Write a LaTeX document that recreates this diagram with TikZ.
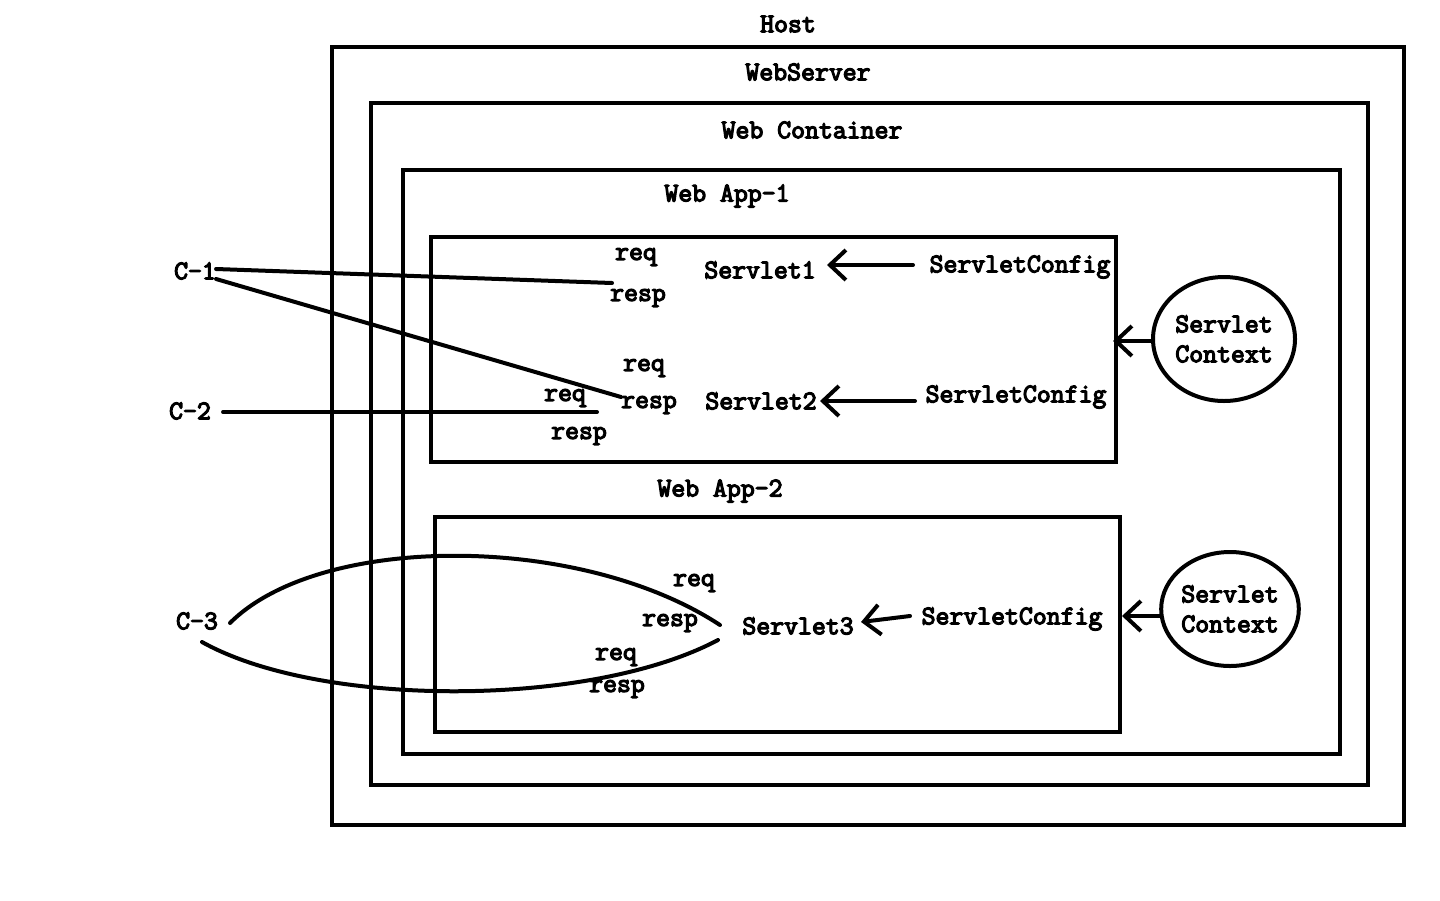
\documentclass[tikz,border=0pt]{standalone}
\usepackage{fontspec}
\newfontfamily\heavymono{Latin Modern Mono}[FakeBold=4.5]
\usetikzlibrary{arrows.meta,shapes.geometric}
\begin{document}
\begin{tikzpicture}[x=1pt,y=-1pt,
  lw/.style={line width=4pt},
  box/.style={draw,lw,rectangle,inner sep=0pt},
  lbl/.style={inner sep=0pt,font=\heavymono\fontsize{27}{30}\selectfont},
  ctx/.style={draw,lw,ellipse,inner sep=0pt,align=center,font=\heavymono\fontsize{27}{30}\selectfont},
  wire/.style={lw,line cap=round},
  arr/.style={lw,line cap=round,-{Straight Barb[length=16pt,width=30pt,line width=4pt]}}
]
\useasboundingbox (0,0) rectangle (1440,900);
\fill[white] (0,0) rectangle (1440,900);

% boxes
\node[box,minimum width=1072,minimum height=778] (host) at (868,436) {};
\node[box,minimum width=997,minimum height=682] (websrv) at (869.5,444) {};
\node[box,minimum width=937,minimum height=584] (cont) at (871.5,462) {};
\node[box,minimum width=685,minimum height=225] (app1) at (773.5,349.5) {};
\node[box,minimum width=685,minimum height=215] (app2) at (777.5,624.5) {};

% titles
\node[lbl] (thost) at (788,24) {Host};
\node[lbl] (tws) at (808,72) {WebServer};
\node[lbl] (tcont) at (812,130) {Web Container};
\node[lbl] (tapp1) at (727,196) {Web App-1};
\node[lbl] (tapp2) at (720,491) {Web App-2};

% clients
\node[lbl] (c1) at (195,271) {C-1};
\node[lbl] (c2) at (190,411) {C-2};
\node[lbl] (c3) at (197,621) {C-3};

% app 1 texts
\node[lbl] (rq1) at (636,257) {req};
\node[lbl] (rs1) at (638,298) {resp};
\node[lbl] (rq2) at (644,368) {req};
\node[lbl] (rs2) at (649,405) {resp};
\node[lbl] (rq3) at (565,398) {req};
\node[lbl] (rs3) at (579,436) {resp};
\node[lbl] (s1) at (760,270) {Servlet1};
\node[lbl] (s2) at (761,401) {Servlet2};
\node[lbl] (cfg1) at (1020,267) {ServletConfig};
\node[lbl] (cfg2) at (1016,397) {ServletConfig};
\node[ctx,minimum width=142,minimum height=124] (ctx1) at (1224,339) {Servlet\\Context};

% app 2 texts
\node[lbl] (rq4) at (694,583) {req};
\node[lbl] (rs4) at (670,623) {resp};
\node[lbl] (rq5) at (616,657) {req};
\node[lbl] (rs5) at (617,689) {resp};
\node[lbl] (s3) at (798,626) {Servlet3};
\node[lbl] (cfg3) at (1012,619) {ServletConfig};
\node[ctx,minimum width=136,minimum height=114] (ctx2) at (1230,609) {Servlet\\Context};

% connector end points
\coordinate (e1) at (612,283);
\coordinate (e2) at (621,397);
\coordinate (e3) at (597,412);
\coordinate (u0) at (230,623);
\coordinate (u1) at (720,625);
\coordinate (l0) at (202,642);
\coordinate (l1) at (718,640);

% client wires
\draw[wire] ([yshift=2]c1.east) -- (e1);
\draw[wire] ([yshift=-8]c1.east) -- (e2);
\draw[wire] ([xshift=12]c2.east |- e3) -- (e3);
\draw[wire] (u0) .. controls (320,533) and (580,533) .. (u1);
\draw[wire] (l0) .. controls (320,708) and (590,708) .. (l1);

% config arrows
\draw[arr] (913,265) -- (827,265);
\draw[arr] (915,401) -- (820,401);
\draw[arr] (910,616) -- (861,622);
\draw[arr] (ctx1.west |- 0,341) -- (1113,341);
\draw[arr] (ctx2.west |- 0,616) -- (1122,616);
\end{tikzpicture}
\end{document}
